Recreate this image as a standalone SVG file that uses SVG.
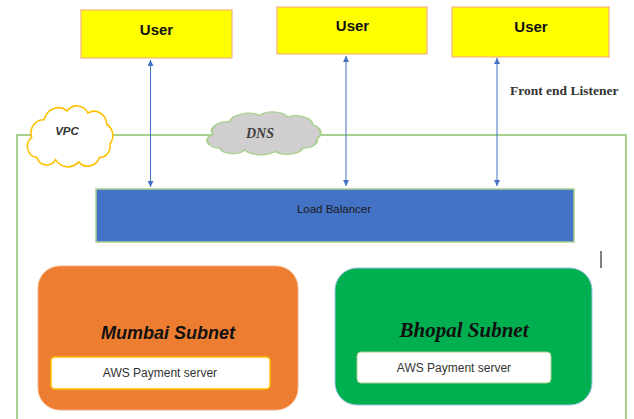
<svg xmlns="http://www.w3.org/2000/svg" width="634" height="419" viewBox="0 0 634 419">
<defs>
<marker id="ah" viewBox="0 0 10 10" refX="10" refY="5" markerWidth="6" markerHeight="6" markerUnits="userSpaceOnUse" orient="auto-start-reverse">
<path d="M0,0 L10,5 L0,10 z" fill="#4472C4"/>
</marker>
<path id="cloud" d="M 20,50 a10,10 0 0 1 -5,-18 a12,12 0 0 1 12,-16 a14,14 0 0 1 22,-8 a12,12 0 0 1 20,2 a12,12 0 0 1 18,10 a12,12 0 0 1 3,18 a10,10 0 0 1 -10,12 a12,12 0 0 1 -20,4 a14,14 0 0 1 -22,-2 a10,10 0 0 1 -18,-2 z"/>
</defs>
<style>
.user{fill:#FFFF00;stroke:#F4B183;stroke-width:1.2}
.ut{font-family:"Liberation Sans",Arial,sans-serif;font-weight:bold;font-size:15px;fill:#111;text-anchor:middle}
.arrow{stroke:#4472C4;stroke-width:1;fill:none;marker-start:url(#ah);marker-end:url(#ah)}
.vpcline{stroke:#A9D18E;stroke-width:2;fill:none}
.aws{font-family:"Liberation Sans",Arial,sans-serif;font-size:12px;fill:#333;text-anchor:middle}
</style>
<g id="vpc-boundary">
<polyline class="vpcline" points="17,419 17,135 626,135 626,419"/>
</g>
<g id="user1"><rect class="user" x="81" y="10" width="151" height="48"/><text class="ut" x="156.5" y="35">User</text></g>
<g id="user2"><rect class="user" x="277" y="7" width="150" height="47"/><text class="ut" x="352.5" y="31">User</text></g>
<g id="user3"><rect class="user" x="452" y="7" width="157" height="50"/><text class="ut" x="531" y="32">User</text></g>
<g id="vpc">
<use href="#cloud" transform="translate(16,102) scale(1.043,1.109)" fill="#FFFFFF" stroke="#FFC000" stroke-width="1.5" vector-effect="non-scaling-stroke"/>
<text x="67" y="135" font-family="Liberation Sans,Arial,sans-serif" font-weight="bold" font-style="italic" font-size="11.5" fill="#333" text-anchor="middle">VPC</text>
</g>
<g id="dns">
<use href="#cloud" transform="translate(192,109.2) scale(1.387,0.782)" fill="#D0CECE" stroke="#A9D18E" stroke-width="1.5" vector-effect="non-scaling-stroke"/>
<text x="260" y="138" font-family="Liberation Serif,Times New Roman,serif" font-weight="bold" font-style="italic" font-size="14" fill="#404040" text-anchor="middle">DNS</text>
</g>
<g id="front-end-label">
<text x="510" y="95" font-family="Liberation Serif,Times New Roman,serif" font-weight="bold" font-size="13.5" fill="#333">Front end Listener</text>
</g>
<g id="load-balancer">
<rect x="96" y="189" width="478" height="53" fill="#4472C4" stroke="#A9D18E" stroke-width="1.5"/>
<text x="334" y="213" font-family="Liberation Sans,Arial,sans-serif" font-size="11.5" fill="#1a1a1a" text-anchor="middle">Load Balancer</text>
</g>
<g id="connectors">
<line class="arrow" x1="150.5" y1="60" x2="150.5" y2="187"/>
<line class="arrow" x1="346" y1="56" x2="346" y2="186"/>
<line class="arrow" x1="497" y1="58" x2="497" y2="186"/>
</g>
<g id="mumbai-subnet">
<rect x="38" y="266" width="260" height="144" rx="22" fill="#ED7D31" stroke="#F4B183" stroke-width="1"/>
<text x="168" y="339" font-family="Liberation Sans,Arial,sans-serif" font-weight="bold" font-style="italic" font-size="18" fill="#111" text-anchor="middle">Mumbai Subnet</text>
<rect x="51" y="357" width="219" height="32" rx="4" fill="#FFFFFF" stroke="#FFC000" stroke-width="1.5"/>
<text class="aws" x="160" y="377">AWS Payment server</text>
</g>
<g id="bhopal-subnet">
<rect x="335" y="268" width="257" height="137" rx="22" fill="#00B050" stroke="#9DC3E6" stroke-width="1"/>
<text x="464" y="337" font-family="Liberation Serif,Times New Roman,serif" font-weight="bold" font-style="italic" font-size="21" fill="#111" text-anchor="middle">Bhopal Subnet</text>
<rect x="357" y="352" width="194" height="31" rx="4" fill="#FFFFFF" stroke="#A9D18E" stroke-width="1"/>
<text class="aws" x="454" y="372">AWS Payment server</text>
</g>
<line x1="601" y1="251" x2="601" y2="268" stroke="#808080" stroke-width="2"/>
</svg>
